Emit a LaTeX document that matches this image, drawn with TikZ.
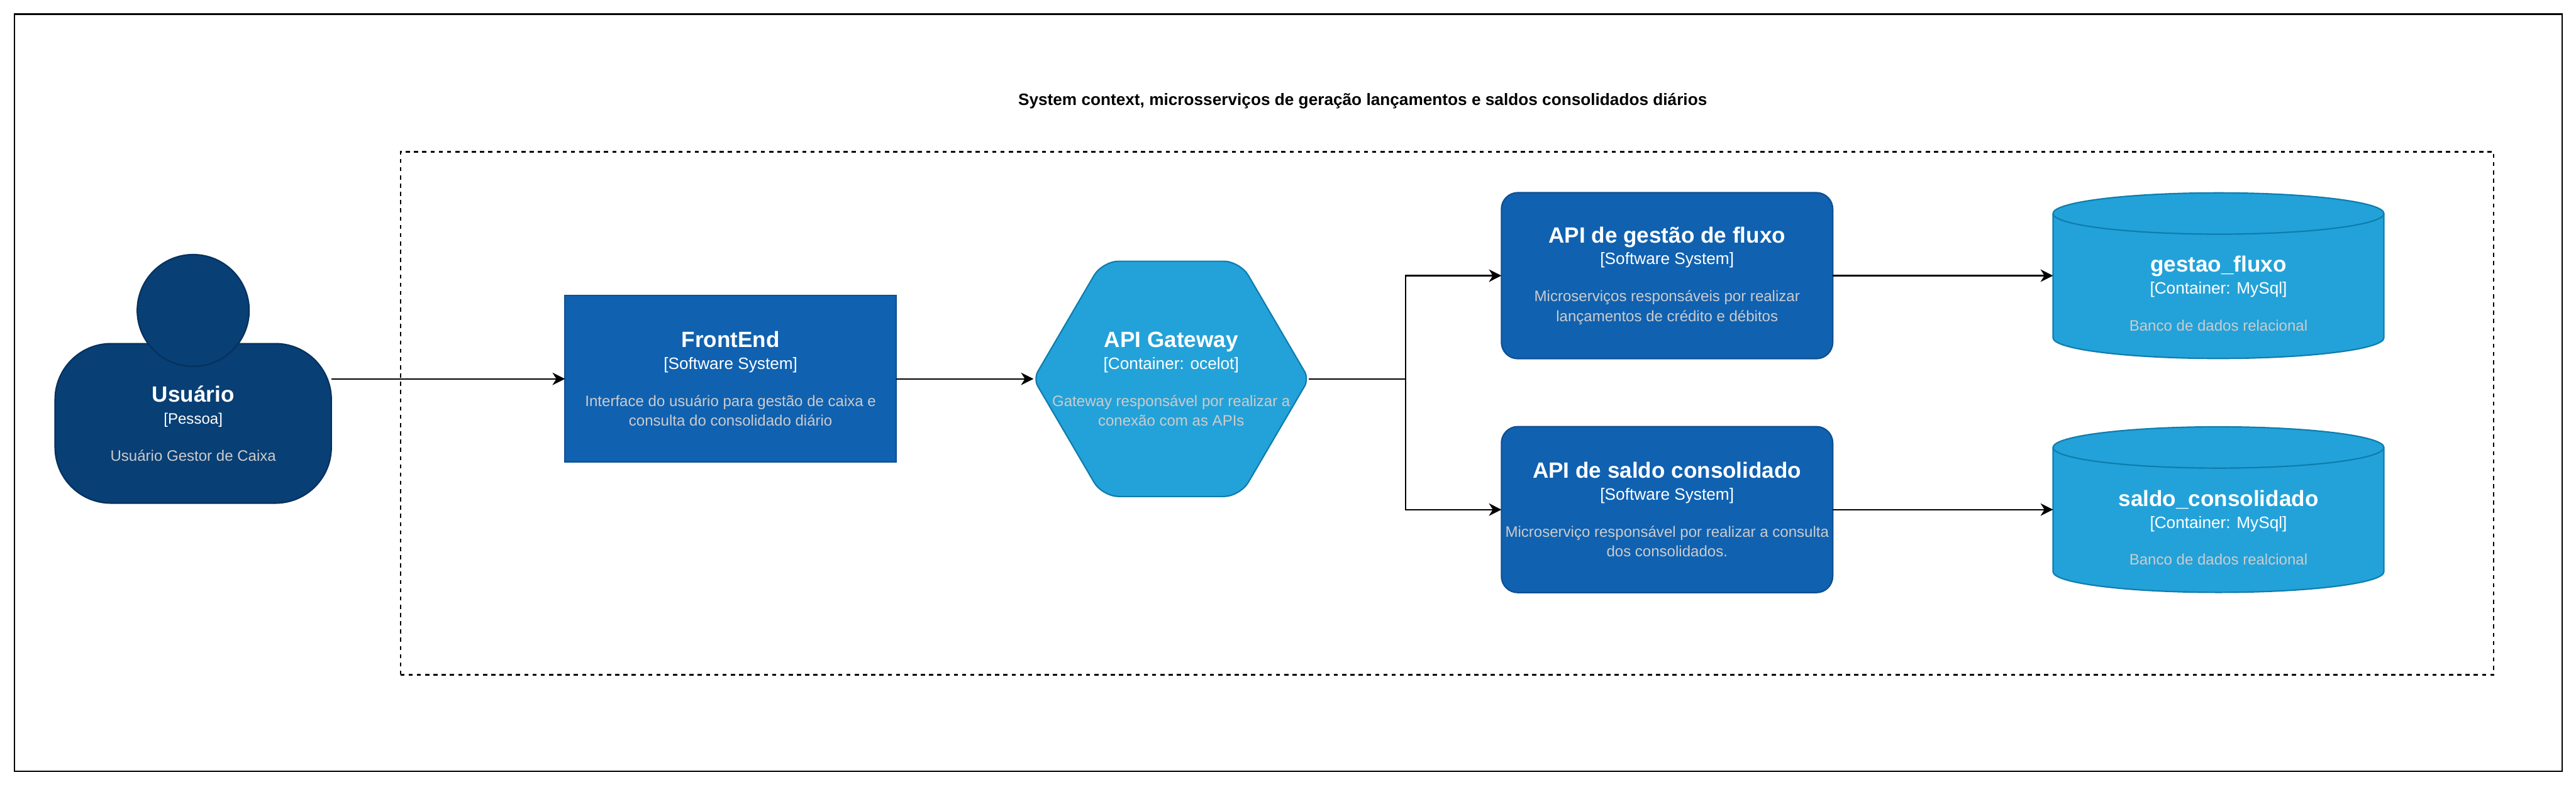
\documentclass[tikz,border=0pt]{standalone}
\usepackage{fontspec}
\setmainfont{Liberation Sans}
\usetikzlibrary{positioning, arrows.meta, backgrounds, calc}
\definecolor{personblue}{HTML}{083F75}
\definecolor{personedge}{HTML}{06315C}
\definecolor{systemblue}{HTML}{1061B0}
\definecolor{systemedge}{HTML}{0D5091}
\definecolor{containerblue}{HTML}{23A2D9}
\definecolor{containeredge}{HTML}{0E7DAD}
\definecolor{descgray}{HTML}{CCCCCC}
\newcommand{\boxhead}[3][10.9]{{\color{white}\fontsize{14.6}{17}\selectfont\bfseries #2}\\[1.4pt]{\color{white}\fontsize{#1}{13.1}\selectfont #3}\\[11.4pt]}

\begin{document}
\begin{tikzpicture}[
    c4text/.style={
      text=descgray, align=center, outer sep=0pt, inner xsep=0pt,
      font=\fontsize{10}{13.1}\selectfont
    },
    systembox/.style={
      c4text, draw=systemedge, fill=systemblue, line width=0.032cm,
      minimum width=7.7cm, minimum height=3.87cm
    },
    apibox/.style={systembox, rounded corners=0.38cm, minimum height=3.86cm},
    dbshape/.style={outer sep=0pt, inner sep=0pt, minimum width=7.69cm, minimum height=3.85cm},
    dbpaint/.style={draw=containeredge, fill=containerblue, line width=0.032cm},
    dblabel/.style={c4text, inner sep=0pt},
    rel/.style={-{Stealth[length=0.29cm, width=0.29cm, inset=0.09cm]}, line width=0.032cm},
]
    \useasboundingbox (0,0) rectangle (59.87,18.30);

    \node[draw, line width=0.032cm, minimum width=59.21cm, minimum height=17.6cm] (frame) at (29.94,9.17) {};
    \node[draw, line width=0.032cm, dash pattern=on 0.096cm off 0.096cm,
          minimum width=48.65cm, minimum height=12.16cm] (boundary) at (33.63,8.69) {};
    \node[font=\fontsize{10.9}{13.1}\selectfont\bfseries] (title) at (31.67,15.95)
      {System context, microsserviços de geração lançamentos e saldos consolidados diários};

    % Pessoa
    \node[c4text, draw=personedge, fill=personblue, line width=0.032cm, rounded corners=1.3cm,
          minimum width=6.42cm, minimum height=3.71cm] (usuario) at (4.49,8.455)
      {\boxhead[10]{Usuário}{[Pessoa]}Usuário Gestor de Caixa};
    \node[circle, draw=personedge, fill=personblue, line width=0.032cm, outer sep=0pt,
          minimum size=2.6cm] (usuariohead) at (4.49,11.08) {};

    % Sistemas
    \node[systembox] (frontend) at (16.98,9.49)
      {\boxhead{FrontEnd}{[Software System]}Interface do usuário para gestão de caixa e\\consulta do consolidado diário};

    \node[c4text, minimum width=6.4cm, minimum height=5.47cm, right=3.19cm of frontend] (gateway)
      {\boxhead{API Gateway}{[Container: ocelot]}Gateway responsável por realizar a\\conexão com as APIs};
    \begin{scope}[on background layer]
      \draw[dbpaint]
        (gateway.north) [rounded corners=0.38cm] -- ([xshift=-1.6cm]gateway.north east)
        [rounded corners=0.2cm] -- (gateway.east)
        [rounded corners=0.38cm] -- ([xshift=-1.6cm]gateway.south east) -- ([xshift=1.6cm]gateway.south west)
        [rounded corners=0.2cm] -- (gateway.west)
        [rounded corners=0.38cm] -- ([xshift=1.6cm]gateway.north west) -- cycle;
    \end{scope}

    \node[apibox] (gestao) at (38.745,11.89)
      {\boxhead{API de gestão de fluxo}{[Software System]}Microserviços responsáveis por realizar\\lançamentos de crédito e débitos};
    \node[apibox, below=1.58cm of gestao] (saldo)
      {\boxhead{API de saldo consolidado}{[Software System]}Microserviço responsável por realizar a consulta\\dos consolidados.};

    % Bancos
    \node[dbshape, right=5.12cm of gestao] (gestaodb) {};
    \node[dbshape, right=5.12cm of saldo] (saldodb) {};
    \foreach \db in {gestaodb, saldodb} {
      \draw[dbpaint] ([yshift=-0.48cm]\db.north west)
        arc[x radius=3.845cm, y radius=0.48cm, start angle=180, end angle=0]
        -- ([yshift=0.48cm]\db.south east)
        arc[x radius=3.845cm, y radius=0.48cm, start angle=0, end angle=-180] -- cycle;
      \draw[dbpaint, fill=none] ([yshift=-0.48cm]\db.north west)
        arc[x radius=3.845cm, y radius=0.48cm, start angle=180, end angle=360];
    }
    \node[dblabel] (gestaotext) at ($(gestaodb.center)+(0,-0.42)$)
      {\boxhead{gestao\_fluxo}{[Container: MySql]}Banco de dados relacional};
    \node[dblabel] (saldotext) at ($(saldodb.center)+(0,-0.42)$)
      {\boxhead{saldo\_consolidado}{[Container: MySql]}Banco de dados realcional};

    \draw[rel] (usuario.east |- frontend.west) -- (frontend.west);
    \draw[rel] (frontend) -- (gateway);
    \draw[rel] (gateway.east) -- ++(2.25,0) |- (gestao.west);
    \draw[rel] (gateway.east) -- ++(2.25,0) |- (saldo.west);
    \draw[rel] (gestao) -- (gestaodb);
    \draw[rel] (saldo) -- (saldodb);
\end{tikzpicture}
\end{document}
